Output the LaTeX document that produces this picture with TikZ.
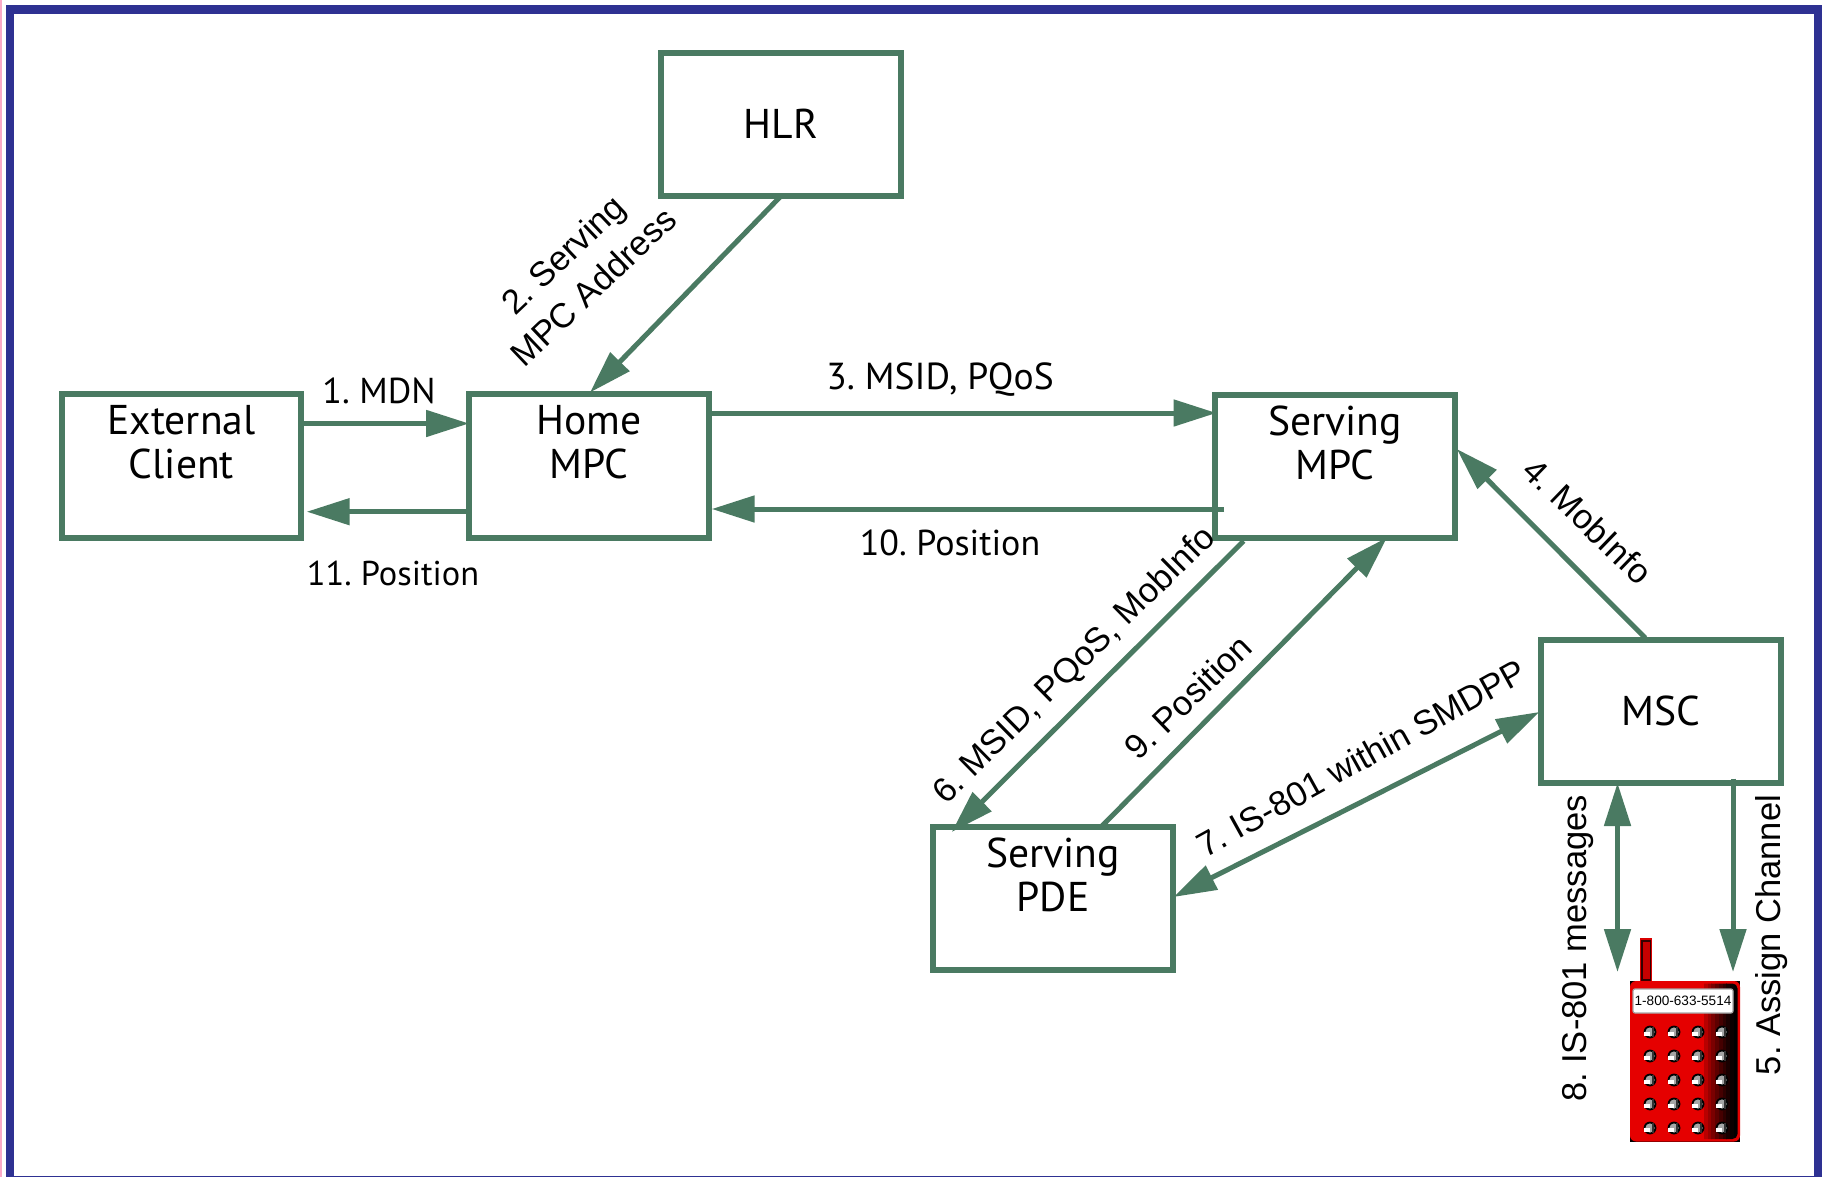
\documentclass[tikz,border=0pt]{standalone}
\usepackage{fontspec}
\setmainfont{Liberation Sans}
\newfontfamily\boxfont{PT Sans}
\usetikzlibrary{arrows.meta,calc}
\definecolor{linkgreen}{RGB}{74,122,98}
\definecolor{framenavy}{RGB}{46,49,146}
\definecolor{edgepink}{RGB}{250,170,200}
\tikzset{
  px/.style={x=0.5pt,y=-0.5pt},
  boxnode/.style={draw=linkgreen,line width=3pt,fill=white,outer sep=0pt,inner sep=0pt,
    minimum width=119.75pt,minimum height=71.75pt,align=center,
    font=\boxfont\fontsize{20.8pt}{22pt}\selectfont},
  arr/.style={draw=linkgreen,line width=2.5pt,-{Triangle[length=21.5pt,width=13pt,fill=linkgreen]}},
  dblarr/.style={draw=linkgreen,line width=2.5pt,{Triangle[length=21.5pt,width=13pt,fill=linkgreen]}-{Triangle[length=21.5pt,width=13pt,fill=linkgreen]}},
  lbl/.style={inner sep=0pt,align=center,font=\frenchspacing\fontsize{17.25pt}{22pt}\selectfont},
  lblh/.style={inner sep=0pt,align=center,font=\boxfont\frenchspacing\fontsize{18pt}{22pt}\selectfont},
}
\begin{document}
\begin{tikzpicture}[px]
\useasboundingbox (0,0) rectangle (1827,1177);
% frame
\fill[edgepink] (0,0) rectangle (2,1177);
\fill[framenavy] (6,5) rectangle (1822,1177);
\fill[white] (14,14) rectangle (1814,1176);

% boxes
\node[boxnode] (hlr) at (781,124.5) {\raisebox{0.6pt}{HLR}};
\node[boxnode] (ext) at (181.5,466) {External\\Client\\[-5pt]\strut};
\node[boxnode] (home) at (589,466) {Home\\MPC\\[-5pt]\strut};
\node[boxnode] (smpc) at (1335,466.5) {Serving\\MPC\\[-5pt]\strut};
\node[boxnode] (msc) at (1661,711.5) {\raisebox{0.6pt}{MSC}};
\node[boxnode] (pde) at (1053,898.5) {Serving\\PDE\\[-5pt]\strut};

% phone
\fill[red!85!black] (1640,938) rectangle (1652,982);
\draw[black!80!red,line width=0.6pt,fill=red!78!black] (1642,941) rectangle (1650.5,980);
\fill[black] (1630,981) rectangle (1740,1141.5);
\fill[red!90!black,rounded corners=3pt] (1630,981) rectangle (1740,1141.5);
\begin{scope}
  \clip[rounded corners=2.5pt] (1630,983.5) rectangle (1737.5,1139);
  \foreach \i/\sh in {0/72,1/60,2/48,3/37,4/27,5/18,6/10,7/4,8/0}
    \fill[red!\sh!black] ({1704+\i*3.7},983) rectangle ({1708+\i*3.7},1140);
\end{scope}
\foreach \cx in {1650,1674,1698,1722}
  \foreach \cy in {1032,1056,1080,1104,1128}{
    \fill[black] (\cx,\cy) circle (3.2pt);
    \fill[gray!70] (\cx,\cy) circle (2.3pt);
    \fill[black!80] (\cx+1.5,\cy-5) rectangle (\cx+3.5,\cy+5);
    \fill[white] (\cx-6.5,\cy) rectangle (\cx-0.5,\cy+4);
  }
\node[draw=gray!70,line width=0.6pt,fill=white,rounded corners=1pt,minimum width=50pt,minimum height=12pt,
  inner sep=0pt,font=\fontsize{6.8pt}{8pt}\selectfont] (dial) at (1683,1001) {1-800-633-5514};

% free ends
\coordinate (phoneL) at (1617.5,972);
\coordinate (phoneR) at (1733,972);

% connectors
\draw[arr] ([shift={(118.5,-42.5)}]ext.center) -- ([shift={(-120,-42.5)}]home.center);
\draw[arr] ([shift={(-119,45.7)}]home.center) -- ([shift={(125.2,45.7)}]ext.center);
\draw[arr] ([shift={(118,-53)}]home.center) -- ([shift={(-118.5,-53.5)}]smpc.center);
\draw[arr] ([shift={(-111,42.5)}]smpc.center) -- ([shift={(122.7,43)}]home.center);
\draw[arr] ([shift={(0,71.5)}]hlr.center) -- ([shift={(1,-73.5)}]home.center);
\draw[arr] ([shift={(-15.7,-73.5)}]msc.center) -- ([shift={(121.8,-17.5)}]smpc.center);
\draw[arr] ([shift={(-91.4,74.5)}]smpc.center) -- ([shift={(-101.3,-66.5)}]pde.center);
\draw[arr] ([shift={(49,-72.5)}]pde.center) -- ([shift={(52,71)}]smpc.center);
\draw[dblarr] ([shift={(120.5,-1.5)}]pde.center) -- ([shift={(-121.6,0.5)}]msc.center);
\draw[dblarr] ([shift={(-43.5,71.5)}]msc.center) -- (phoneL);
\draw[arr] ([shift={(72,67)}]msc.center) -- (phoneR);

% labels
\node[lblh] (l1) at (379,391) {1. MDN};
\node[lbl,rotate=43.5] (l2) at (578,270.5) {2. Serving\\MPC Address};
\node[lblh,font=\boxfont\frenchspacing\fontsize{18.8pt}{22pt}\selectfont] (l3) at (940,380) {3. MSID, PQoS};
\node[lbl,rotate=-44] (l4) at (1588,521) {4. MobInfo};
\node[lbl,rotate=90] (l5) at (1772,935) {5. Assign Channel};
\node[lbl,rotate=44.5] (l6) at (1075,666) {6. MSID, PQoS, MobInfo};
\node[lbl,rotate=29] (l7) at (1361,758) {7. IS-801 within SMDPP};
\node[lbl,rotate=90] (l8) at (1578,948.5) {8. IS-801 messages};
\node[lbl,rotate=44] (l9) at (1188,697) {9. Position};
\node[lblh] (l10) at (950,543) {10. Position};
\node[lblh,font=\boxfont\frenchspacing\fontsize{17.2pt}{22pt}\selectfont] (l11) at (393,573) {11. Position};
\end{tikzpicture}
\end{document}
